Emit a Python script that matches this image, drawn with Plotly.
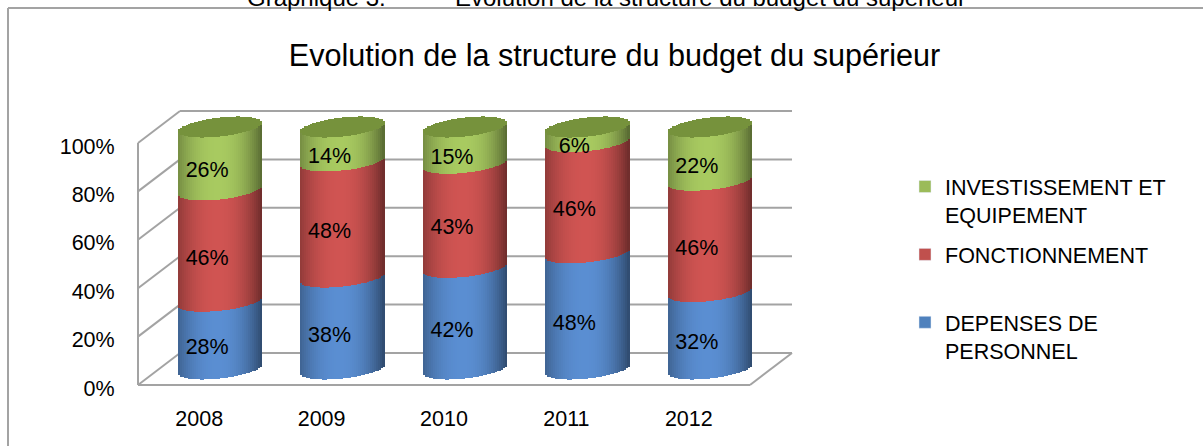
import numpy as np
import plotly.graph_objects as go

years = ["2008", "2009", "2010", "2011", "2012"]
personnel = [28, 38, 42, 48, 32]
fonctionnement = [46, 48, 43, 46, 46]
investissement = [26, 14, 15, 6, 22]
series_names = ["DEPENSES DE<br>PERSONNEL", "FONCTIONNEMENT<br>&nbsp;", "INVESTISSEMENT ET<br>EQUIPEMENT"]
series_values = [personnel, fonctionnement, investissement]
series_colors = ["#4f81bd", "#c0504d", "#9bbb59"]
cap_color = (118, 146, 60)
light = {0: (90, 142, 210), 1: (208, 84, 82), 2: (168, 202, 96)}
ticks = [0, 20, 40, 60, 80, 100]

W, H = 1203, 446
FONT = "Liberation Sans, Arial"
X0, XUNIT = 138.0, 122.4
Y0, YUNIT = 385.0, 2.42
L, R, T, B = 130, 800, 100, 392
x_range = [(L - X0) / XUNIT - 0.5, (R - X0) / XUNIT - 0.5]
y_range = [(Y0 - B) / YUNIT, (Y0 - T) / YUNIT]
back_dx, back_dy = 42 / XUNIT, 32 / YUNIT
half_w = 42 / XUNIT
arc_b, arc_tilt = 9.5 / YUNIT, 4.5 / YUNIT
N = 42
ts = (np.arange(N) + 0.5) / N * 2 - 1
slice_w = 2 * half_w / N * 1.2


def shade(base, t):
    c = np.array(base, dtype=float)
    d = np.abs(t + 0.05) / 1.05
    edge = 0.52 if t > 0 else 0.62
    return c * (1 - (1 - edge) * d ** 2.2)


def rgb(c):
    return "rgb(%d,%d,%d)" % tuple(np.clip(np.round(c), 0, 255))


fig = go.Figure()
for i, (vals, col) in enumerate(zip(series_values, series_colors)):
    xs, bases, ys, cols = [], [], [], []
    for j in range(len(years)):
        low = sum(series_values[k][j] for k in range(i))
        for t in ts:
            front = -arc_b * np.sqrt(1 - t * t) + arc_tilt * t
            xs.append(j + back_dx / 2 + t * half_w)
            bases.append(low + back_dy / 2 + front)
            ys.append(vals[j])
            cols.append(rgb(shade(light[i], t)))
    fig.add_trace(go.Bar(x=xs, y=ys, base=bases, width=slice_w, marker=dict(color=cols, line_width=0),
                         showlegend=False, hoverinfo="skip"))

xs, bases, ys, cols = [], [], [], []
for j in range(len(years)):
    total = sum(s[j] for s in series_values)
    for t in ts:
        arc = arc_b * np.sqrt(1 - t * t)
        xs.append(j + back_dx / 2 + t * half_w)
        bases.append(total + back_dy / 2 - arc + arc_tilt * t)
        ys.append(2 * arc)
        cols.append(rgb(cap_color))
fig.add_trace(go.Bar(x=xs, y=ys, base=bases, width=slice_w, marker=dict(color=cols, line_width=0),
                     showlegend=False, hoverinfo="skip"))

for k, (name, col) in reversed(list(enumerate(zip(series_names, series_colors)))):
    fig.add_trace(go.Bar(x=[None], y=[None], name=name, marker_color=col, legendgroup="g%d" % k))

for i, vals in enumerate(series_values):
    mids = [sum(series_values[k][j] for k in range(i)) + vals[j] / 2 + 1 for j in range(len(years))]
    fig.add_trace(go.Scatter(x=[j + 0.065 for j in range(len(years))], y=mids, mode="text",
                             text=["%d%%" % v for v in vals],
                             textfont=dict(family=FONT, size=21.5, color="#000"),
                             showlegend=False, hoverinfo="skip"))

GRID = dict(color="#a3a3a3", width=2)
shapes = []
for v in ticks:
    yb = v + back_dy
    shapes.append(dict(type="line", layer="below", xref="x", yref="y", x0=-0.5, y0=v, x1=-0.5 + back_dx, y1=yb, line=GRID))
    shapes.append(dict(type="line", layer="below", xref="x", yref="y", x0=-0.5 + back_dx, y0=yb, x1=4.5 + back_dx, y1=yb, line=GRID))
shapes.append(dict(type="line", layer="below", xref="x", yref="y", x0=-0.5, y0=0, x1=-0.5, y1=100, line=GRID))
shapes.append(dict(type="line", layer="below", xref="x", yref="y", x0=-0.5, y0=0, x1=4.5, y1=0, line=GRID))
shapes.append(dict(type="line", layer="below", xref="x", yref="y", x0=4.5, y0=0, x1=4.5 + back_dx, y1=back_dy, line=GRID))


def px(x):
    return (x - L) / (R - L)


def py(y):
    return (B - y) / (B - T)


for a, b, c, d in [(8, 8, 1203, 8), (8, 8, 8, 446)]:
    shapes.append(dict(type="line", layer="below", xref="paper", yref="paper",
                       x0=px(a), x1=px(c), y0=py(b), y1=py(d), line=dict(color="#a3a3a3", width=2)))

fig.update_layout(
    width=W, height=H, autosize=False,
    margin=dict(l=L, r=W - R, t=T, b=H - B, pad=0),
    paper_bgcolor="white", plot_bgcolor="rgba(0,0,0,0)",
    barmode="overlay", bargap=0,
    font=dict(family=FONT, size=21.5, color="#000"),
    title=dict(text="Evolution de la structure du budget du supérieur",
               x=614.5 / W, xanchor="center", y=1 - 55 / H, yanchor="middle",
               font=dict(family=FONT, size=30.6, color="#000")),
    xaxis=dict(range=x_range, tickmode="array", tickvals=list(range(len(years))), ticktext=years,
               showgrid=False, zeroline=False, showline=False, ticks="outside", ticklen=7,
               tickcolor="rgba(0,0,0,0)", tickfont=dict(family=FONT, size=21.5)),
    yaxis=dict(range=y_range, tickmode="array", tickvals=ticks, ticktext=["%d%%" % v for v in ticks],
               showgrid=False, zeroline=False, showline=False, ticks="outside", ticklen=10, ticklabelshift=3,
               tickcolor="rgba(0,0,0,0)", tickfont=dict(family=FONT, size=21.5)),
    legend=dict(xref="container", yref="container", x=905 / W, xanchor="left", y=1 - 166 / H, yanchor="top",
                traceorder="grouped", valign="top", tracegroupgap=9, bgcolor="rgba(0,0,0,0)",
                font=dict(family=FONT, size=21.5, color="#000")),
    shapes=shapes,
    annotations=[
        dict(text="Graphique 3:", xref="paper", yref="paper", x=px(388), xanchor="right",
             y=py(13), yanchor="bottom", showarrow=False, font=dict(family=FONT, size=24, color="#000")),
        dict(text="Evolution de la structure du budget du supérieur", xref="paper", yref="paper", x=px(453),
             xanchor="left", y=py(13), yanchor="bottom", showarrow=False,
             font=dict(family=FONT, size=24, color="#000")),
    ],
)
fig.write_html("out.html", config={"displayModeBar": False}, post_script="document.body.style.margin='0';")
